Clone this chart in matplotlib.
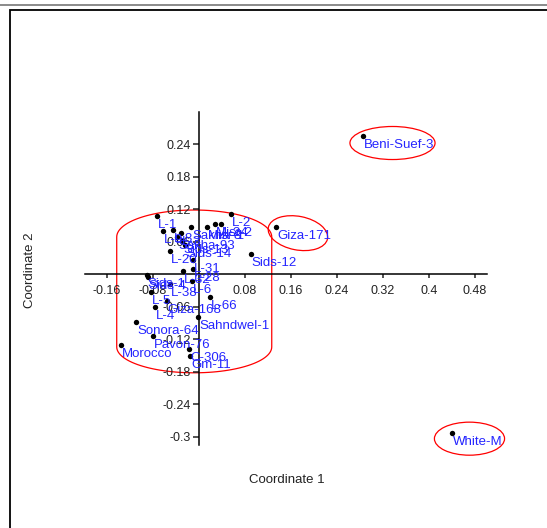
import numpy as np
import matplotlib
matplotlib.use("Agg")
import matplotlib.pyplot as plt
from matplotlib.patches import Ellipse, PathPatch, Rectangle
from matplotlib.path import Path
from matplotlib.lines import Line2D

plt.rcParams["font.family"] = ["Liberation Sans", "DejaVu Sans"]
plt.rcParams["axes.unicode_minus"] = False

# PCoA scores
names = [
    "L-1", "L-9", "L-8", "Sakha-8", "Misr-1", "Misr-2", "L-24", "L-2",
    "L-3", "Sakha-93", "Sids-13", "Sids-14", "L-20", "L-31", "L-28", "L-32",
    "Sids-1", "Sids-4", "L-38", "L-6", "L-5", "Giza-168", "L-4", "L-66",
    "Sahndwel-1", "Sonora-64", "Pavon-76", "Morocco", "C-306", "Gm-11",
    "Sids-12", "Giza-171", "Beni-Suef-3", "White-M",
]
coord1 = [
    -0.0725, -0.0621, -0.0457, -0.0139, 0.0134, 0.0278, 0.0377, 0.0551,
    -0.0318, -0.0377, -0.0290, -0.0243, -0.0504, -0.0104, -0.0110, -0.0283,
    -0.0910, -0.0892, -0.0504, -0.0122, -0.0840, -0.0562, -0.0765, 0.0191,
    -0.0012, -0.1096, -0.0795, -0.1362, -0.0169, -0.0157,
    0.0899, 0.1339, 0.2847, 0.4400,
]
coord2 = [
    0.1070, 0.0794, 0.0823, 0.0873, 0.0873, 0.0929, 0.0929, 0.1113,
    0.0762, 0.0683, 0.0620, 0.0535, 0.0436, 0.0264, 0.0098, 0.0066,
    -0.0013, -0.0055, -0.0185, -0.0118, -0.0332, -0.0493, -0.0609, -0.0425,
    -0.0794, -0.0875, -0.1133, -0.1305, -0.1385, -0.1503,
    0.0375, 0.0868, 0.2559, -0.2924,
]

xticks = [-0.16, -0.08, 0.08, 0.16, 0.24, 0.32, 0.4, 0.48]
xticklabels = ["-0.16", "-0.08", "0.08", "0.16", "0.24", "0.32", "0.4", "0.48"]
yticks = [0.24, 0.18, 0.12, 0.06, -0.06, -0.12, -0.18, -0.24, -0.3]
yticklabels = ["0.24", "0.18", "0.12", "0.06", "-0.06", "-0.12", "-0.18", "-0.24", "-0.3"]

fig = plt.figure(figsize=(5.47, 5.28), dpi=100)
ax = fig.add_axes([0, 0, 1, 1])
ax.set_xlim(-0.3461, 0.6052)
ax.set_ylim(-0.4683, 0.5064)
ax.patch.set_alpha(0)

for side in ["top", "right"]:
    ax.spines[side].set_visible(False)
ax.spines["left"].set_position(("data", 0))
ax.spines["bottom"].set_position(("data", 0))
ax.spines["left"].set_bounds(-0.315, 0.30)
ax.spines["bottom"].set_bounds(-0.198, 0.50)
for side in ["left", "bottom"]:
    ax.spines[side].set_linewidth(1.1)

ax.set_xticks(xticks)
ax.set_xticklabels(xticklabels)
ax.set_yticks(yticks)
ax.set_yticklabels(yticklabels)
ax.tick_params(axis="x", direction="out", length=3, width=1.1, pad=5, labelsize=9, colors="#222222")
ax.tick_params(axis="y", direction="out", length=4.5, width=1.1, pad=1.5, labelsize=9, colors="#222222")

# groups drawn by hand on the plot
cx, a = -0.0083, 0.1348
y_top, y_bot, cap = 0.0689, -0.134, 0.0498
t1 = np.linspace(0, np.pi, 60)
t2 = np.linspace(np.pi, 2 * np.pi, 60)
px = np.concatenate([cx + a * np.cos(t1), cx + a * np.cos(t2), [cx + a]])
py = np.concatenate([y_top + cap * np.sin(t1), y_bot + cap * 0.96 * np.sin(t2), [y_top]])
ax.add_patch(PathPatch(Path(np.column_stack([px, py])), fill=False, ec="red", lw=0.9))

ax.add_patch(Ellipse((0.172, 0.076), 0.105, 0.062, angle=-12, fill=False, ec="red", lw=0.9))
ax.add_patch(Ellipse((0.3365, 0.2424), 0.148, 0.061, fill=False, ec="red", lw=0.9))
ax.add_patch(Ellipse((0.4704, -0.3034), 0.122, 0.061, fill=False, ec="red", lw=0.9))

ax.scatter(coord1, coord2, s=15, color="black", zorder=3, linewidths=0)
for n, x, y in zip(names, coord1, coord2):
    ax.annotate(n, (x, y), xytext=(1, -3), textcoords="offset pixels",
                ha="left", va="top", fontsize=9.5, color="#2424ff", zorder=4)

fig.text(287 / 547, 1 - 480 / 528, "Coordinate 1", ha="center", va="center", fontsize=9.5, color="#222222")
fig.text(30 / 547, 1 - 270 / 528, "Coordinate 2", ha="center", va="center", rotation=90,
         fontsize=9.5, color="#222222")

# outer frame and top strip of the screenshot
fig.add_artist(Rectangle((10 / 547, -0.1), 1.1, 1 - 10 / 528 + 0.1, transform=fig.transFigure,
                         fill=False, ec="black", lw=1.3))
fig.add_artist(Line2D([0, 1], [1 - 5 / 528, 1 - 5 / 528], transform=fig.transFigure,
                      color="#8a8a8a", lw=1.4))

fig.savefig("out.png", dpi=100)
